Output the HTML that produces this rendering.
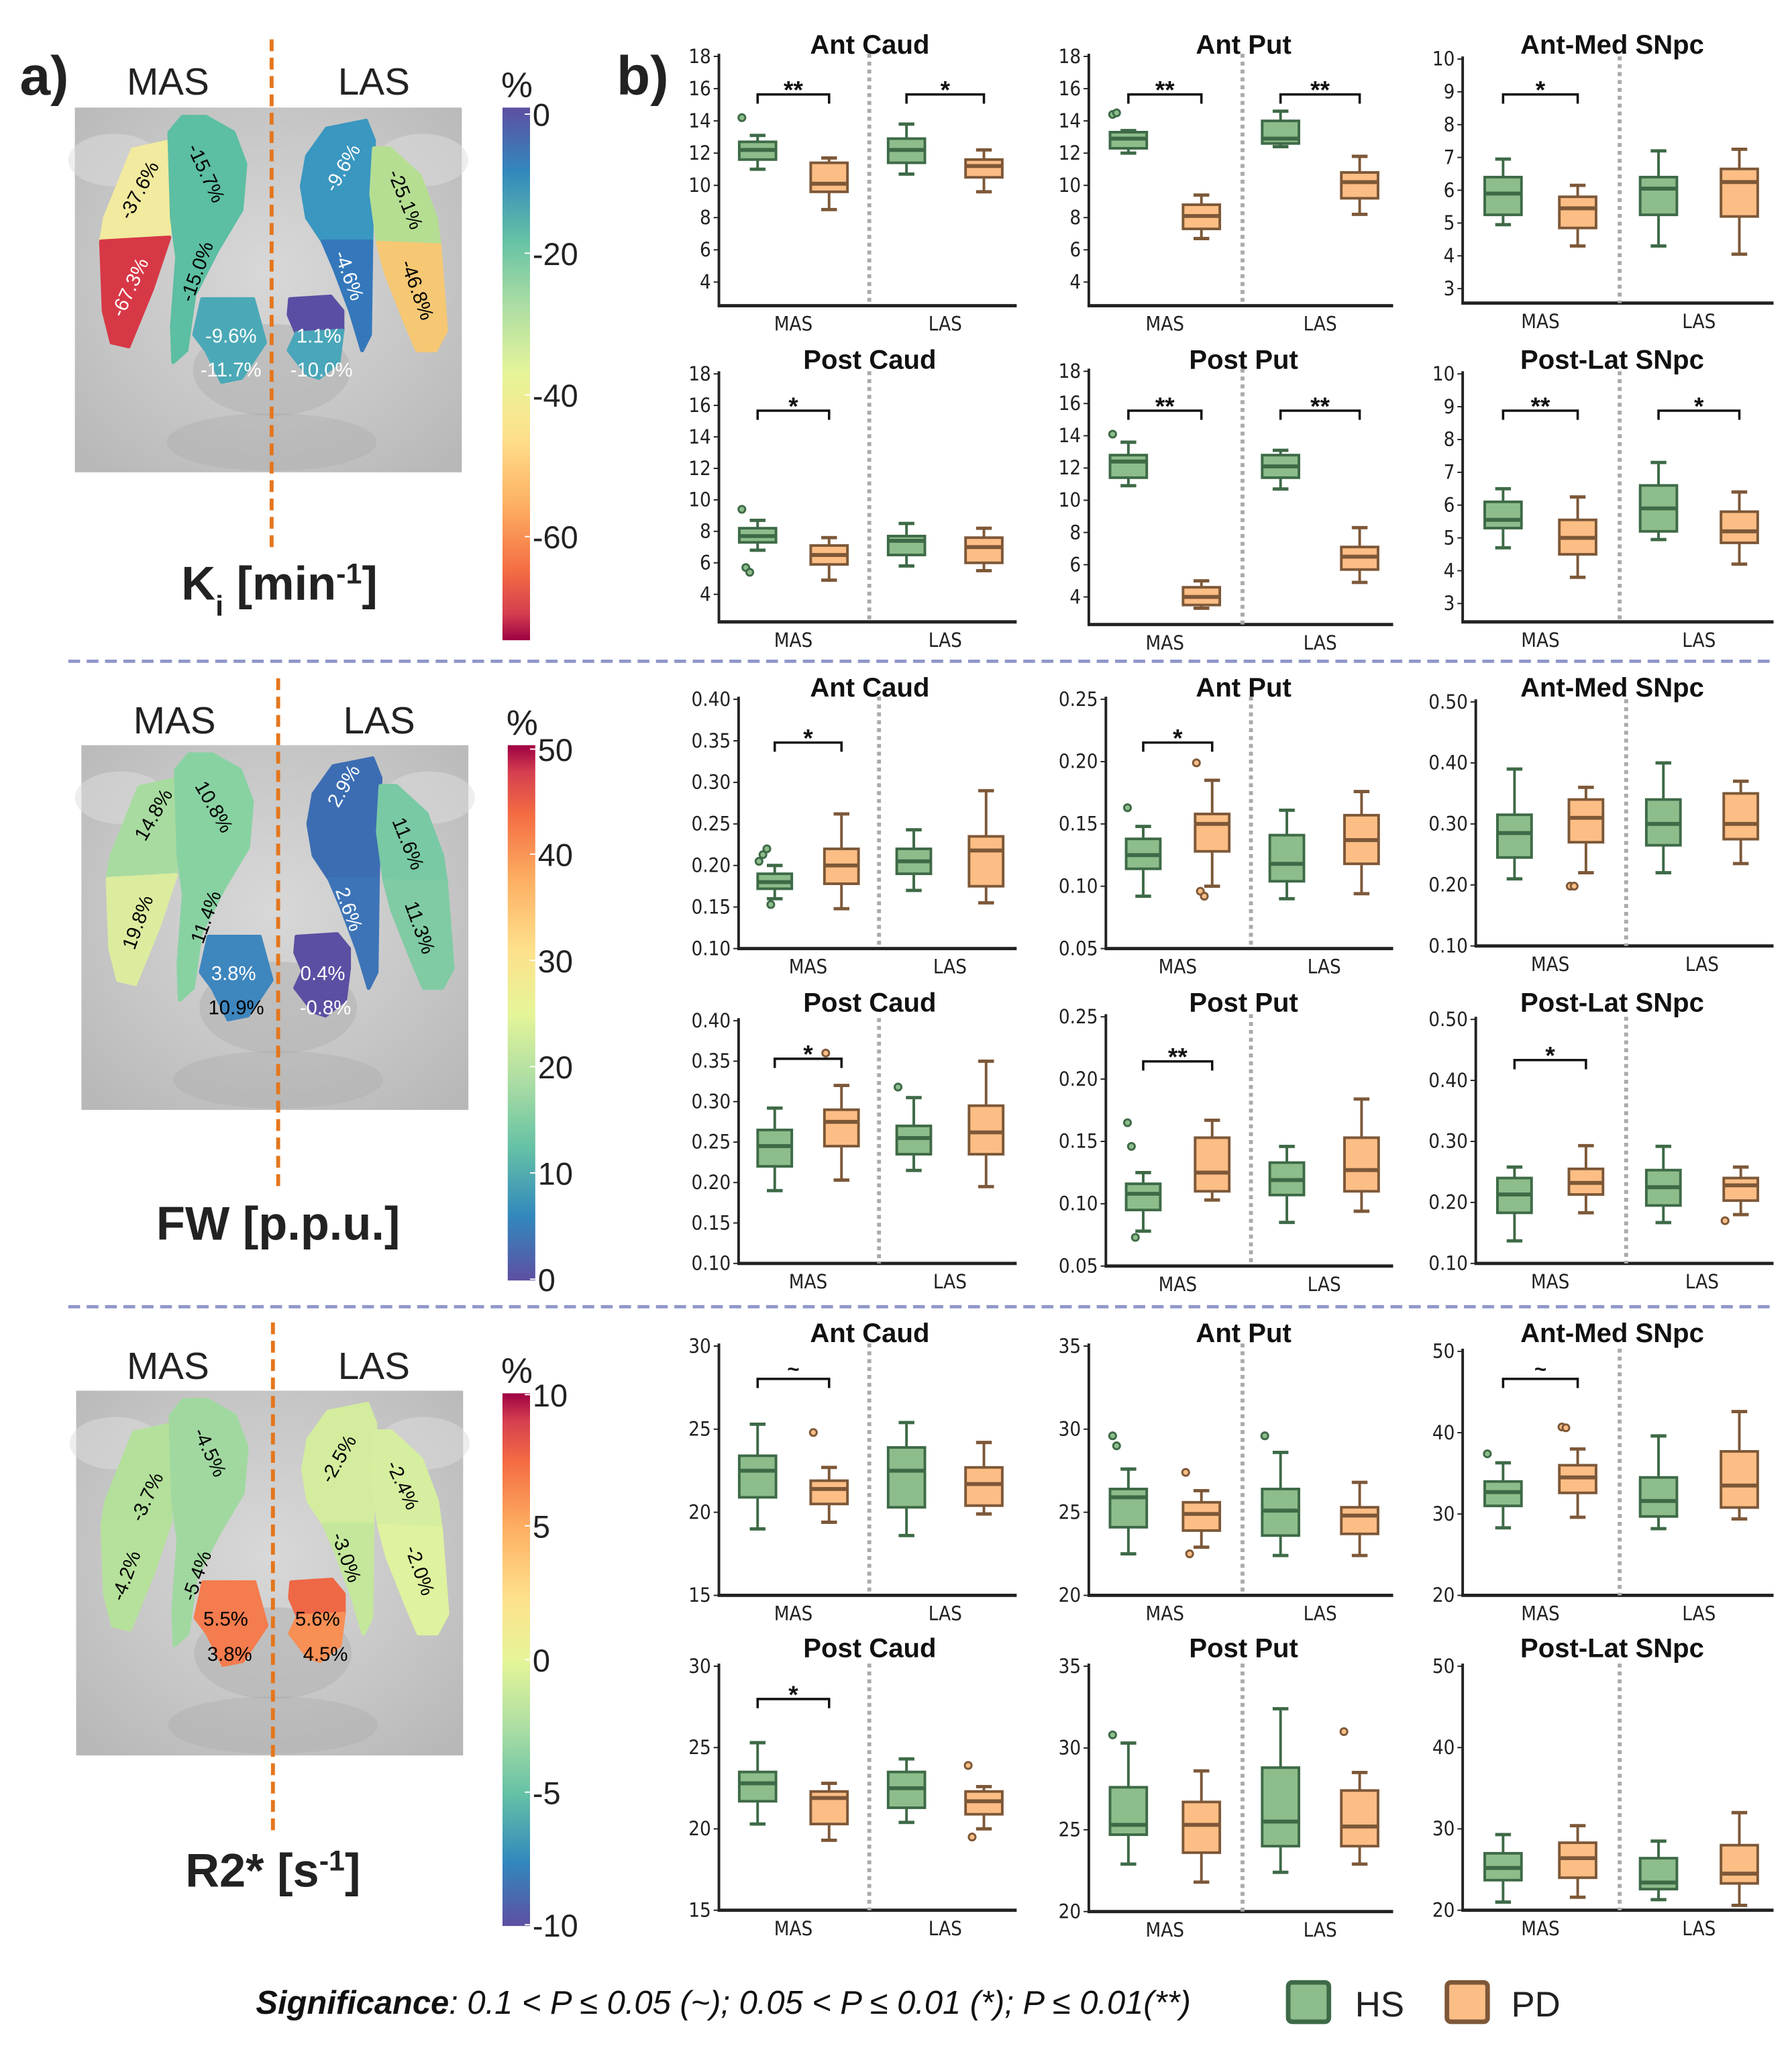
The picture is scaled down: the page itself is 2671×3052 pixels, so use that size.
<!DOCTYPE html>
<html><head><meta charset="utf-8">
<style>
html,body{margin:0;padding:0;background:#fff;}
svg{display:block;}
text{font-family:"Liberation Sans","DejaVu Sans",sans-serif;}
.tick{font-family:"DejaVu Sans Condensed","DejaVu Sans","Liberation Sans",sans-serif;font-size:15px;fill:#222;}
.ttl{font-weight:bold;font-size:20.5px;fill:#111;}
</style></head>
<body>
<svg id="fig" width="2671" height="3052" viewBox="0 0 1366 1561" xmlns="http://www.w3.org/2000/svg">
<defs>
<radialGradient id="bg" cx="50%" cy="45%" r="70%">
<stop offset="0" stop-color="#d8d8d8"/><stop offset="0.6" stop-color="#c6c6c6"/><stop offset="1" stop-color="#b8b8b8"/>
</radialGradient>
<linearGradient id="cbar" x1="0" y1="0" x2="0" y2="1">
<stop offset="0" stop-color="#5e4fa2"/><stop offset="0.12" stop-color="#3288bd"/><stop offset="0.25" stop-color="#66c2a5"/>
<stop offset="0.37" stop-color="#abdda4"/><stop offset="0.5" stop-color="#e6f598"/><stop offset="0.62" stop-color="#fee08b"/>
<stop offset="0.75" stop-color="#fdae61"/><stop offset="0.87" stop-color="#f46d43"/><stop offset="0.95" stop-color="#d53e4f"/><stop offset="1" stop-color="#9e0142"/>
</linearGradient>
<linearGradient id="cbarR" x1="0" y1="1" x2="0" y2="0">
<stop offset="0" stop-color="#5e4fa2"/><stop offset="0.12" stop-color="#3288bd"/><stop offset="0.25" stop-color="#66c2a5"/>
<stop offset="0.37" stop-color="#abdda4"/><stop offset="0.5" stop-color="#e6f598"/><stop offset="0.62" stop-color="#fee08b"/>
<stop offset="0.75" stop-color="#fdae61"/><stop offset="0.87" stop-color="#f46d43"/><stop offset="0.95" stop-color="#d53e4f"/><stop offset="1" stop-color="#9e0142"/>
</linearGradient>
</defs>
<g id="left"></g>
<g id="right"></g>
<g id="legend"></g>
</svg>
<script>
// ===== chart data =====
const groups = ["HS MAS","PD MAS","HS LAS","PD LAS"];
const ticks_ki_str = [4,6,8,10,12,14,16,18];
const ticks_ki_sn = [3,4,5,6,7,8,9,10];
const ticks_fw_str = [0.10,0.15,0.20,0.25,0.30,0.35,0.40];
const ticks_fw_put = [0.05,0.10,0.15,0.20,0.25];
const ticks_fw_sn = [0.10,0.20,0.30,0.40,0.50];
const ticks_r2_caud = [15,20,25,30];
const ticks_r2_put = [20,25,30,35];
const ticks_r2_sn = [20,30,40,50];
const titles = ["Ant Caud","Ant Put","Ant-Med SNpc","Post Caud","Post Put","Post-Lat SNpc",
                "Ant Caud","Ant Put","Ant-Med SNpc","Post Caud","Post Put","Post-Lat SNpc",
                "Ant Caud","Ant Put","Ant-Med SNpc","Post Caud","Post Put","Post-Lat SNpc"];
// [lowWhisker, q1, median, q3, highWhisker] for HS MAS, PD MAS, HS LAS, PD LAS
const ki_antcaud = [[11.0,11.6,12.2,12.7,13.1],[8.5,9.6,10.1,11.4,11.7],[10.7,11.4,12.2,12.9,13.8],[9.6,10.5,11.2,11.6,12.2]];
const ki_antcaud_out = [[14.2],[],[],[]];
const ki_antput = [[12.0,12.3,12.9,13.3,13.4],[6.7,7.3,8.1,8.8,9.4],[12.4,12.6,12.9,14.0,14.6],[8.2,9.2,10.2,10.8,11.8]];
const ki_antput_out = [[14.4,14.5],[],[],[]];
const ki_antsn = [[4.95,5.25,5.9,6.4,6.95],[4.3,4.85,5.45,5.8,6.15],[4.3,5.25,6.05,6.4,7.2],[4.05,5.2,6.25,6.65,7.25]];
const ki_antsn_out = [[],[],[],[]];
const ki_postcaud = [[6.8,7.3,7.7,8.2,8.7],[4.9,5.9,6.5,7.1,7.6],[5.8,6.5,7.4,7.7,8.5],[5.5,6.0,7.0,7.6,8.2]];
const ki_postcaud_out = [[9.4,5.7,5.4],[],[],[]];
const ki_postput = [[10.9,11.4,12.4,12.8,13.6],[3.3,3.5,4.0,4.6,5.0],[10.7,11.4,12.1,12.8,13.1],[4.9,5.7,6.5,7.1,8.3]];
const ki_postput_out = [[14.1],[],[],[]];
const ki_postsn = [[4.7,5.3,5.55,6.1,6.5],[3.8,4.5,5.0,5.55,6.25],[4.95,5.2,5.9,6.6,7.3],[4.2,4.85,5.2,5.8,6.4]];
const ki_postsn_out = [[],[],[],[]];
const fw_antcaud = [[0.16,0.172,0.18,0.19,0.20],[0.148,0.178,0.20,0.22,0.262],[0.17,0.19,0.205,0.22,0.243],[0.155,0.175,0.218,0.235,0.29]];
const fw_antcaud_out = [[0.205,0.213,0.22,0.153],[],[],[]];
const fw_antput = [[0.092,0.114,0.125,0.138,0.148],[0.10,0.128,0.15,0.158,0.185],[0.09,0.104,0.118,0.141,0.161],[0.094,0.118,0.137,0.157,0.176]];
const fw_antput_out = [[0.163],[0.199,0.096,0.092],[],[]];
const fw_antsn = [[0.21,0.245,0.285,0.315,0.39],[0.22,0.27,0.31,0.34,0.36],[0.22,0.265,0.30,0.34,0.40],[0.235,0.275,0.30,0.35,0.37]];
const fw_antsn_out = [[],[0.198,0.198],[],[]];
const fw_postcaud = [[0.19,0.22,0.245,0.265,0.292],[0.203,0.245,0.275,0.29,0.32],[0.215,0.235,0.255,0.27,0.305],[0.195,0.235,0.262,0.295,0.35]];
const fw_postcaud_out = [[],[0.36],[0.318],[]];
const fw_postput = [[0.078,0.095,0.108,0.116,0.125],[0.103,0.11,0.125,0.153,0.167],[0.085,0.107,0.119,0.133,0.146],[0.094,0.11,0.127,0.153,0.184]];
const fw_postput_out = [[0.165,0.146,0.073],[],[],[]];
const fw_postsn = [[0.137,0.183,0.213,0.24,0.258],[0.183,0.213,0.232,0.255,0.293],[0.167,0.195,0.225,0.253,0.292],[0.18,0.203,0.228,0.24,0.258]];
const fw_postsn_out = [[],[],[],[0.17]];
const r2_antcaud = [[19.0,20.9,22.5,23.4,25.3],[19.4,20.5,21.4,21.9,22.7],[18.6,20.3,22.5,23.9,25.4],[19.9,20.4,21.7,22.7,24.2]];
const r2_antcaud_out = [[],[24.8],[],[]];
const r2_antput = [[22.5,24.1,25.9,26.4,27.6],[22.9,23.9,24.9,25.6,26.3],[22.4,23.6,25.1,26.4,28.6],[22.4,23.7,24.8,25.3,26.8]];
const r2_antput_out = [[29.6,29.0],[27.4,22.5],[29.6],[]];
const r2_antsn = [[28.3,31.0,32.7,34.0,36.3],[29.6,32.6,34.5,36.0,38.0],[28.2,29.7,31.6,34.5,39.6],[29.4,30.8,33.5,37.7,42.6]];
const r2_antsn_out = [[37.4],[40.7,40.6],[],[]];
const r2_postcaud = [[20.3,21.7,22.8,23.5,25.3],[19.3,20.3,21.9,22.3,22.8],[20.4,21.3,22.5,23.5,24.3],[20.0,20.9,21.7,22.3,22.6]];
const r2_postcaud_out = [[],[],[],[23.9,19.5]];
const r2_postput = [[22.9,24.7,25.3,27.6,30.3],[21.8,23.6,25.3,26.7,28.6],[22.4,24.0,25.5,28.8,32.4],[22.9,24.0,25.2,27.4,28.5]];
const r2_postput_out = [[30.8],[],[],[31.0]];
const r2_postsn = [[21.0,23.7,25.2,27.0,29.3],[21.6,24.0,26.4,28.3,30.4],[21.3,22.6,23.4,26.4,28.5],[20.6,23.3,24.5,28.0,32.0]];
const r2_postsn_out = [[],[],[],[]];
// significance labels [MAS, LAS]
const sig_ki = [["**","*"],["**","**"],["*",""],["*",""],["**","**"],["**","*"]];
const sig_fw = [["*",""],["*",""],["",""],["*",""],["**",""],["*",""]];
const sig_r2 = [["~",""],["",""],["~",""],["*",""],["",""],["",""]];

// ===== layout (pixels, not data) =====
const NS="http://www.w3.org/2000/svg";
function mk(tag,attrs,parent){const e=document.createElementNS(NS,tag);for(const k in attrs)e.setAttribute(k,attrs[k]);if(parent)parent.appendChild(e);return e;}
const right=document.getElementById('right');
const left=document.getElementById('left');
const legend=document.getElementById('legend');

const stats=[ki_antcaud,ki_antput,ki_antsn,ki_postcaud,ki_postput,ki_postsn,fw_antcaud,fw_antput,fw_antsn,fw_postcaud,fw_postput,fw_postsn,r2_antcaud,r2_antput,r2_antsn,r2_postcaud,r2_postput,r2_postsn];
const outs=[ki_antcaud_out,ki_antput_out,ki_antsn_out,ki_postcaud_out,ki_postput_out,ki_postsn_out,fw_antcaud_out,fw_antput_out,fw_antsn_out,fw_postcaud_out,fw_postput_out,fw_postsn_out,r2_antcaud_out,r2_antput_out,r2_antsn_out,r2_postcaud_out,r2_postput_out,r2_postsn_out];
const tickSets=[ticks_ki_str,ticks_ki_str,ticks_ki_sn,ticks_ki_str,ticks_ki_str,ticks_ki_sn,ticks_fw_str,ticks_fw_put,ticks_fw_sn,ticks_fw_str,ticks_fw_put,ticks_fw_sn,ticks_r2_caud,ticks_r2_put,ticks_r2_sn,ticks_r2_caud,ticks_r2_put,ticks_r2_sn];
const sigs=[...sig_ki,...sig_fw,...sig_r2];
const yl=[[43,215,233,72],[43,215,233,72],[45,220,231,72],[285,453,474,313],[283,455,476,313],[285,460,474,313],
          [533,723,723,566],[533,723,723,566],[535,721,721,566],[778,963,963,807],[775,965,965,809],[777,963,963,808],
          [1026,1216,1216,1051],[1026,1216,1216,1051],[1030,1216,1216,1051],[1270,1456,1456,1295],[1270,1457,1457,1295],[1270,1456,1456,1295]];
const titleY=[41,281,531,771,1023,1263];
const xa=[[548,775],[830,1062],[1115,1352]];
const xb=[[563,775],[843,1062],[1125,1352]];
const fr=[0.13,0.37,0.63,0.89];
const fills=["#8dbd8b","#fdbe85","#8dbd8b","#fdbe85"];
const strokes=["#3e6a47","#7d5838","#3e6a47","#7d5838"];

for(let p=0;p<18;p++){
  const row=Math.floor(p/3), col=p%3;
  const [x0,x1]=(row===2||row===3)?xb[col]:xa[col];
  const tk=tickSets[p];
  const [yT,yB,axB,brY]=yl[p];
  const vMin=tk[0], vMax=tk[tk.length-1];
  const Y=v=>yB+(v-vMin)/(vMax-vMin)*(yT-yB);
  const X=i=>x0+fr[i]*(x1-x0);
  const g=mk('g',{},right);
  
  
  const tcx=[663,948,1229][col];
  const t=mk('text',{x:tcx,y:titleY[row],'text-anchor':'middle',class:'ttl'},g);t.textContent=titles[p];
  
  const ya=mk('line',{x1:x0,y1:yT-2,x2:x0,y2:axB,stroke:'#222','stroke-width':2},g);
  
  const xaL=mk('line',{x1:x0-1,y1:axB,x2:x1,y2:axB,stroke:'#222','stroke-width':2.5},g);
  
  tk.forEach(v=>{
    mk('line',{x1:x0-4,y1:Y(v),x2:x0,y2:Y(v),stroke:'#222','stroke-width':1},g);
    const tt=mk('text',{x:x0-6,y:Y(v)+5,'text-anchor':'end',class:'tick'},g);
    tt.textContent=(vMax<1)?v.toFixed(2):String(v);
    
  });
  const dv=mk('line',{x1:x0+0.505*(x1-x0),y1:yT-2,x2:x0+0.505*(x1-x0),y2:axB,stroke:'#aaa','stroke-width':3,'stroke-dasharray':'3,3'},g);
  
  ['MAS','LAS'].forEach((s,k)=>{
    const lx=(X(2*k)+X(2*k+1))/2;
    const lt=mk('text',{x:lx,y:axB+19,'text-anchor':'middle',class:'tick','font-size':'15.5'},g);lt.textContent=s;
    
  });
  const bw=(row===2||row===3)?26:28;
  stats[p].forEach((s,i)=>{
    const cx=X(i), c=strokes[i];
    const bg=mk('g',{},g);
    
    
    mk('line',{x1:cx,y1:Y(s[0]),x2:cx,y2:Y(s[1]),stroke:c,'stroke-width':2},bg);
    mk('line',{x1:cx,y1:Y(s[3]),x2:cx,y2:Y(s[4]),stroke:c,'stroke-width':2},bg);
    mk('line',{x1:cx-6,y1:Y(s[0]),x2:cx+6,y2:Y(s[0]),stroke:c,'stroke-width':2.5},bg);
    mk('line',{x1:cx-6,y1:Y(s[4]),x2:cx+6,y2:Y(s[4]),stroke:c,'stroke-width':2.5},bg);
    mk('rect',{x:cx-bw/2,y:Y(s[3]),width:bw,height:Math.max(1,Y(s[1])-Y(s[3])),fill:fills[i],stroke:c,'stroke-width':2},bg);
    mk('line',{x1:cx-bw/2,y1:Y(s[2]),x2:cx+bw/2,y2:Y(s[2]),stroke:c,'stroke-width':3},bg);
    outs[p][i].forEach((o,j)=>{
      const oc=mk('circle',{cx:cx-12+j*3,cy:Y(o),r:2.6,fill:fills[i],stroke:c,'stroke-width':1.5},bg);
      
    });
  });
  sigs[p].forEach((s,k)=>{
    if(!s)return;
    const a=X(2*k), b=X(2*k+1);
    const sg=mk('g',{},g);
    
    mk('path',{d:`M${a},${brY+7}V${brY}H${b}V${brY+7}`,fill:'none',stroke:'#111','stroke-width':1.8},sg);
    const st=mk('text',{x:(a+b)/2,y:brY-(s==='~'?2:-3),'text-anchor':'middle','font-size':s==='~'?'16':'19','font-weight':'bold',fill:'#111'},sg);
    st.textContent=s;
  });
}
[504,996].forEach(y=>{
  const l=mk('line',{x1:52,y1:y,x2:1352,y2:y,stroke:'#8f97c9','stroke-width':2.5,'stroke-dasharray':'9,5'},right);
  
});
const bl=mk('text',{x:470,y:72,'font-size':'42','font-weight':'bold',fill:'#222'},right);bl.textContent='b)';

const al=mk('text',{x:15,y:72,'font-size':'42','font-weight':'bold',fill:'#222'},left);al.textContent='a)';


// ===== brain maps =====
const shapes={
 putU:[[128,108],[101,114],[80,166],[77,184],[129,181]],
 putL:[[77,184],[129,181],[116,220],[98,264],[85,261],[79,237]],
 caud:[[129,101],[139,89],[157,89],[178,101],[187,125],[184,160],[166,190],[148,225],[142,267],[132,276],[131,249],[135,196],[131,166]],
 sn:[[154,228],[193,228],[202,261],[184,288],[169,291],[157,267],[148,255]],
 lcU:[[234,119],[249,98],[279,92],[285,107],[283,184],[267,190],[246,184],[234,166],[230,142]],
 lcL:[[246,184],[283,184],[282,255],[276,267],[267,237],[255,205]],
 lpU:[[285,113],[297,113],[320,134],[332,166],[335,187],[288,185],[283,148]],
 lpL:[[288,185],[335,187],[340,252],[332,267],[318,267],[309,246],[294,208]],
 lsU:[[221,228],[252,226],[261,237],[261,252],[226,254],[220,240]],
 lsL:[[226,254],[261,252],[258,276],[243,288],[234,285],[220,267]]
};
const panels=[
 {dx:0,dy:0,grad:'url(#cbar)',cols:{putU:'#f1ea9f',putL:'#d73846',caud:'#5cbea2',sn:'#4ba9b7',lcU:'#3a97c0',lcL:'#3478bb',lpU:'#b5de92',lpL:'#f6c874',lsU:'#5a4ea4',lsL:'#4aa6ba'},
  labels:[['-37.6%',106,150,-62,'#000'],['-67.3%',99,224,-65,'#fff'],['-15.7%',157,137,65,'#000'],['-15.0%',150,212,-70,'#000'],
          ['-9.6%',176,261,0,'#fff'],['-11.7%',176,287,0,'#fff'],['1.1%',243,261,0,'#fff'],['-10.0%',245,287,0,'#fff'],
          ['-9.6%',261,133,-60,'#fff'],['-4.6%',266,215,70,'#fff'],['-25.1%',309,157,68,'#000'],['-46.8%',318,226,70,'#000']],
  name:'ki',mas:[128,72],las:[285,72],cb:[383,82,488],cbt:[[0,87],[-20,193],[-40,301],[-60,409]],dash:[30,418]},
 {dx:5,dy:486,grad:'url(#cbarR)',cols:{putU:'#a8dba0',putL:'#dcec9f',caud:'#88d2a2',sn:'#3e86be',lcU:'#3c6db3',lcL:'#3d74b7',lpU:'#78c9a4',lpL:'#80cba4',lsU:'#5b4fa3',lsL:'#5b4fa3'},
  labels:[['14.8%',112,140,-60,'#000'],['19.8%',100,222,-70,'#000'],['10.8%',158,134,60,'#000'],['11.4%',152,218,-70,'#000'],
          ['3.8%',173,261,0,'#fff'],['10.9%',175,287,0,'#000'],['0.4%',241,261,0,'#fff'],['-0.8%',243,287,0,'#fff'],
          ['2.9%',257,118,-60,'#fff'],['2.6%',261,212,70,'#fff'],['11.6%',306,162,68,'#000'],['11.3%',315,226,70,'#000']],
  name:'fw',mas:[133,559],las:[289,559],cb:[387,568,976],cbt:[[50,571],[40,651],[30,732],[20,813],[10,894],[0,975]],dash:[517,905]},
 {dx:1,dy:978,grad:'url(#cbarR)',cols:{putU:'#b3e09b',putL:'#b6e19b',caud:'#a0d8a0',sn:'#f47c4e',lcU:'#d3ec9d',lcL:'#c4e79c',lpU:'#d6ee9f',lpL:'#dff29f',lsU:'#ee6846',lsL:'#f88f55'},
  labels:[['-3.7%',111,168,-65,'#000'],['-4.2%',95,228,-70,'#000'],['-4.5%',159,134,65,'#000'],['-5.4%',149,228,-70,'#000'],
          ['5.5%',171,261,0,'#000'],['3.8%',174,288,0,'#000'],['5.6%',241,261,0,'#000'],['4.5%',247,288,0,'#000'],
          ['-2.5%',257,139,-60,'#000'],['-3.0%',263,214,70,'#000'],['-2.4%',306,159,65,'#000'],['-2.0%',319,224,70,'#000']],
  name:'r2',mas:[128,1051],las:[285,1051],cb:[383,1062,1468],cbt:[[10,1063],[5,1163],[0,1265],[-5,1366],[-10,1467]],dash:[1008,1396]}
];
panels.forEach((P,pi)=>{
  const g=mk('g',{},left);
  
  
  const bx=57+P.dx, by=82+P.dy;
  mk('rect',{x:bx,y:by,width:295,height:278,fill:'url(#bg)'},g);
  mk('ellipse',{cx:bx+150,cy:by+200,rx:60,ry:35,fill:'#b0b0b0',opacity:0.5},g);
  mk('ellipse',{cx:bx+150,cy:by+255,rx:80,ry:22,fill:'#a8a8a8',opacity:0.35},g);
  mk('ellipse',{cx:bx+30,cy:by+40,rx:35,ry:20,fill:'#dedede',opacity:0.5},g);
  mk('ellipse',{cx:bx+265,cy:by+40,rx:35,ry:20,fill:'#dedede',opacity:0.5},g);
  for(const k in shapes){
    const pts=shapes[k].map(([x,y])=>(x+P.dx)+','+(y+P.dy)).join(' ');
    const r=mk('polygon',{points:pts,fill:P.cols[k],stroke:P.cols[k],'stroke-width':3,'stroke-linejoin':'round'},g);
    
  }
  P.labels.forEach(([s,x,y,rot,c])=>{
    const X=x+P.dx, Y=y+P.dy;
    const t=mk('text',{x:X,y:Y,'text-anchor':'middle','font-size':'15',fill:c,transform:`rotate(${rot} ${X} ${Y-5})`},g);
    t.textContent=s;
  });
  const dx=207+P.dx;
  const dl=mk('line',{x1:dx,y1:P.dash[0],x2:dx,y2:P.dash[1],stroke:'#e4761d','stroke-width':3,'stroke-dasharray':'9,5'},g);
  
  const m=mk('text',{x:P.mas[0],y:P.mas[1],'text-anchor':'middle','font-size':'29',fill:'#222'},g);m.textContent='MAS';
  
  const l=mk('text',{x:P.las[0],y:P.las[1],'text-anchor':'middle','font-size':'29',fill:'#222'},g);l.textContent='LAS';
  
  const [cx,cy0,cy1]=P.cb;
  const cb=mk('rect',{x:cx,y:cy0,width:21,height:cy1-cy0,fill:P.grad},g);
  
  const pc=mk('text',{x:cx+11,y:cy0-8,'text-anchor':'middle','font-size':'27',fill:'#222'},g);pc.textContent='%';
  
  P.cbt.forEach(([v,y])=>{
    mk('line',{x1:cx+17,y1:y,x2:cx+21,y2:y,stroke:'#fff','stroke-width':1},g);
    const t=mk('text',{x:cx+23,y:y+9,'font-size':'24',fill:'#222'},g);t.textContent=String(v);
    
  });
});
function title(parts,x,y,name){
  const t=mk('text',{x:x,y:y,'text-anchor':'middle','font-size':'36','font-weight':'bold',fill:'#222'},left);
  
  parts.forEach(([s,sh])=>{const ts=mk('tspan',sh?{'baseline-shift':sh,'font-size':'22'}:{},t);ts.textContent=s;});
}
title([['K',null],['i','sub'],[' [min',null],['-1','super'],[']',null]],213,457,'ki-map-title');
title([['FW [p.p.u.]',null]],212,945,'fw-map-title');
title([['R2* [s',null],['-1','super'],[']',null]],208,1438,'r2-map-title');

const sigT=mk('text',{x:195,y:1535,'font-size':'25','font-style':'italic',fill:'#111'},legend);

const s1=mk('tspan',{'font-weight':'bold'},sigT);s1.textContent='Significance';
const s2=mk('tspan',{},sigT);s2.textContent=': 0.1 < P ≤ 0.05 (~); 0.05 < P ≤ 0.01 (*); P ≤ 0.01(**)';
[['HS','#8dbd8b','#3e6a47',982,1033],['PD','#fdbe85','#7d5838',1103,1152]].forEach(([n,f,s,bx,tx])=>{
  const r=mk('rect',{x:bx,y:1511,width:31,height:30,rx:3,fill:f,stroke:s,'stroke-width':3.5},legend);
  
  const t=mk('text',{x:tx,y:1537,'font-size':'27',fill:'#222'},legend);t.textContent=n;
  
});
</script>
</body></html>
